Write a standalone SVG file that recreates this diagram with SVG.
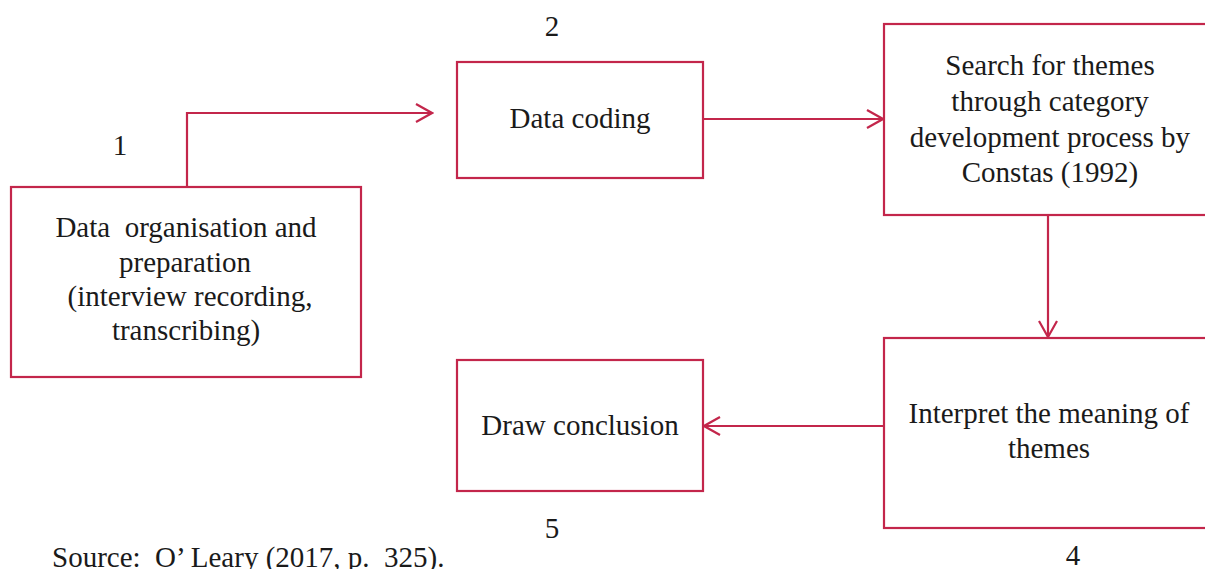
<svg xmlns="http://www.w3.org/2000/svg" width="1205" height="569" viewBox="0 0 1205 569">
<defs>
<style>
.box{fill:#fff;stroke:#c3264b;stroke-width:2.2}
.con{fill:none;stroke:#c3264b;stroke-width:2.2}
text{font-family:"Liberation Serif","Times New Roman",serif;font-size:29px;fill:#1a1a1a;white-space:pre}
.c{text-anchor:middle}
</style>
<marker id="arr" viewBox="0 0 20 20" refX="18" refY="10" markerWidth="20" markerHeight="20" markerUnits="userSpaceOnUse" orient="auto">
<path d="M2,1 L18,10 L2,19" fill="none" stroke="#c3264b" stroke-width="2.2"/>
</marker>
</defs>
<rect width="1205" height="569" fill="#fff"/>
<g id="connectors">
<path class="con" d="M187,186 V113 H432" marker-end="url(#arr)"/>
<path class="con" d="M703,119 H883" marker-end="url(#arr)"/>
<path class="con" d="M1048,215 V337" marker-end="url(#arr)"/>
<path class="con" d="M884,426 H704" marker-end="url(#arr)"/>
</g>
<g id="node1">
<rect class="box" x="11" y="187" width="350" height="190"/>
<text class="c" x="186" y="237" xml:space="preserve">Data  organisation and</text>
<text class="c" x="185" y="272">preparation</text>
<text class="c" x="190" y="306">(interview recording,</text>
<text class="c" x="186" y="340">transcribing)</text>
<text class="c" x="120" y="155">1</text>
</g>
<g id="node2">
<rect class="box" x="457" y="62" width="246" height="116"/>
<text class="c" x="580" y="128">Data coding</text>
<text class="c" x="552" y="36">2</text>
</g>
<g id="node3">
<rect class="box" x="884" y="24" width="340" height="191"/>
<text class="c" x="1050" y="75">Search for themes</text>
<text class="c" x="1050" y="111">through category</text>
<text class="c" x="1050" y="147">development process by</text>
<text class="c" x="1050" y="182">Constas (1992)</text>
</g>
<g id="node4">
<rect class="box" x="884" y="338" width="340" height="190"/>
<text class="c" x="1049" y="423">Interpret the meaning of</text>
<text class="c" x="1049" y="458">themes</text>
<text class="c" x="1073" y="565">4</text>
</g>
<g id="node5">
<rect class="box" x="457" y="360" width="246" height="131"/>
<text class="c" x="580" y="435">Draw conclusion</text>
<text class="c" x="552" y="538">5</text>
</g>
<text x="52" y="567" xml:space="preserve">Source:  O’ Leary (2017, p.  325).</text>
</svg>
